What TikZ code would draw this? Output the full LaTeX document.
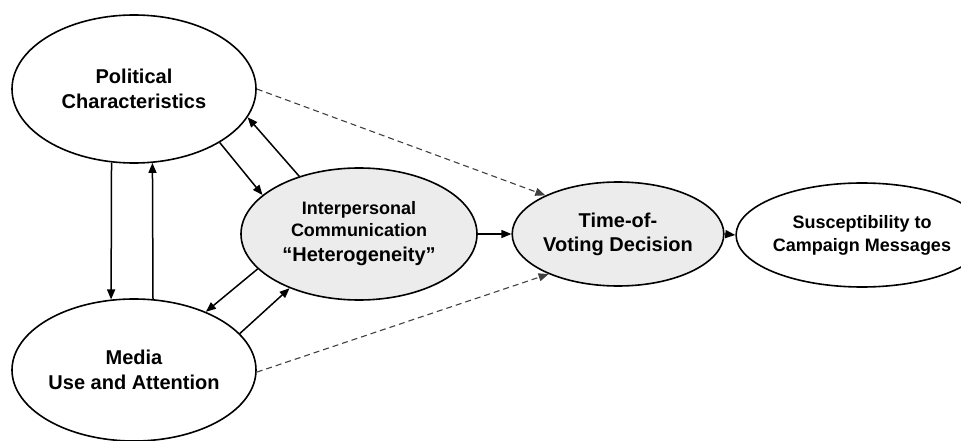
\documentclass[tikz,border=0pt]{standalone}
\usepackage{fontspec}
\setmainfont{Liberation Sans}
\usetikzlibrary{shapes.geometric,arrows.meta}
\definecolor{shade}{RGB}{236,236,236}
\begin{document}
\begin{tikzpicture}[x=1pt,y=-1pt,
  oval/.style={ellipse,draw=black,line width=1.6pt,inner sep=0pt,align=center},
  bigtext/.style={font=\fontsize{20}{25}\selectfont\bfseries},
  smalltext/.style={font=\fontsize{18}{23}\selectfont\bfseries},
  link/.style={line width=1.5pt,-{Triangle[length=10pt,width=8pt]}},
  weak/.style={line width=1.1pt,draw=black!75,dash pattern=on 6pt off 4pt,-{Triangle[length=10pt,width=8pt]}}]
\useasboundingbox (0,0) rectangle (961,441);

% constructs
\node[oval,bigtext,minimum width=244pt,minimum height=148pt] (pol) at (134,89) {Political\\Characteristics};
\node[oval,bigtext,minimum width=244pt,minimum height=142pt] (med) at (134,370) {Media\\Use and Attention};
\node[oval,fill=shade,minimum width=236pt,minimum height=132pt,font=\fontsize{18}{22}\selectfont\bfseries] (ipc) at (359,234)
  {Interpersonal\\Communication\\[3pt]{\fontsize{20}{24}\selectfont “Heterogeneity”}};
\node[oval,fill=shade,minimum width=192pt,minimum height=104pt,font=\fontsize{20}{24}\selectfont\bfseries] (tvd) at (618,234) {Time-of-\\Voting Decision};
\node[oval,smalltext,minimum width=196pt,minimum height=104pt] (sus) at (862,235) {Susceptibility to\\Campaign Messages};

% reciprocal paths between political characteristics and media use
\draw[link] (pol.-107.6) -- (med.108.3);
\draw[link] (med.75.6) -- (pol.-76.2);

% reciprocal paths with interpersonal communication
\draw[link] (pol.-32.7) -- (ipc.158.1);
\draw[link] (ipc.136.4) -- (pol.-14);
\draw[link] (ipc.-161.9) -- (med.39.2);
\draw[link] (med.19.7) -- (ipc.-142);

% main chain
\draw[link] (ipc.east) -- (tvd.west);
\draw[link] (tvd.east) -- (sus.west);

% direct (weaker) paths
\draw[weak] (pol.east) -- (tvd.152.1);
\draw[weak] (med.-1) -- (tvd.-150.9);
\end{tikzpicture}
\end{document}
